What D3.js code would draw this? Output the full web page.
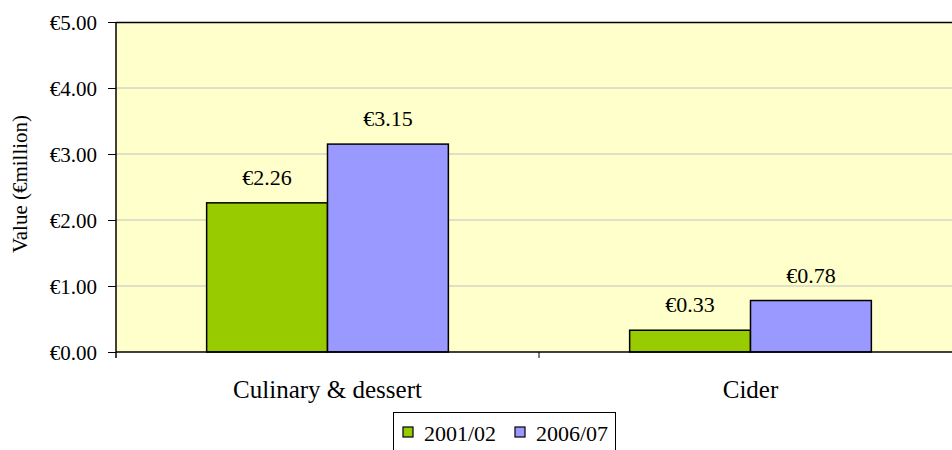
<!DOCTYPE html>
<html><head><meta charset="utf-8">
<script src="https://cdn.jsdelivr.net/npm/d3@7"></script>
<style>body{margin:0;background:#fff}svg{display:block}</style>
</head><body>
<svg id="c" width="952" height="450" font-family="Liberation Serif"></svg>
<script>
const categories = ["Culinary & dessert", "Cider"];
const seriesNames = ["2001/02", "2006/07"];
const values2001 = [2.26, 0.33];
const values2006 = [3.15, 0.78];
const yTicks = [0, 1, 2, 3, 4, 5];
const colors = ["#99CC00", "#9999FF"];

const svg = d3.select("#c");
const FF = "Liberation Serif";
const BASE = 25;
const L = 116, R = 962, T = 22, B = 352;

const x0 = d3.scaleBand().domain(categories).range([L, R]);
const bw = x0.bandwidth() / 3.5;
const x1 = d3.scaleBand().domain(seriesNames).range([bw * 0.75, x0.bandwidth() - bw * 0.75]);
const y = d3.scaleLinear().domain([0, 5]).range([B, T]);
const euro = v => "€" + v.toFixed(2);
const k = s => (s / BASE).toFixed(3);

// plot area
svg.append("rect").attr("x", L).attr("y", T).attr("width", R - L).attr("height", B - T)
  .attr("fill", "#FFFFCC");
svg.append("g").selectAll("line").data(yTicks.filter(d => d > 0 && d < 5)).join("line")
  .attr("x1", L).attr("x2", R).attr("y1", d => y(d)).attr("y2", d => y(d))
  .attr("stroke", "#C0C0C0").attr("stroke-width", 1);
svg.append("line").attr("x1", L).attr("x2", R).attr("y1", T + 0.5).attr("y2", T + 0.5)
  .attr("stroke", "#000").attr("stroke-width", 1.5);

// bars
const data = categories.map((c, i) => ({c, vals: [values2001[i], values2006[i]]}));
const g = svg.append("g");
data.forEach(d => {
  d.vals.forEach((v, j) => {
    const xx = x0(d.c) + x1(seriesNames[j]);
    g.append("rect").attr("x", xx).attr("y", y(v)).attr("width", x1.bandwidth())
      .attr("height", y(0) - y(v)).attr("fill", colors[j])
      .attr("stroke", "#000").attr("stroke-width", 1.5);
    g.append("text")
      .attr("transform", `translate(${xx + x1.bandwidth() / 2},${y(v) - 18}) scale(${k(22)})`)
      .attr("text-anchor", "middle").attr("font-family", FF).attr("font-size", BASE)
      .attr("fill", "#000").text(euro(v));
  });
});

// y axis
const yAxis = d3.axisLeft(y).tickValues(yTicks).tickSize(8).tickFormat(euro);
const ya = svg.append("g").attr("transform", `translate(${L},0)`).call(yAxis)
  .attr("font-family", FF).attr("font-size", BASE);
ya.select(".domain").remove();
ya.selectAll(".tick line").attr("stroke", "#000");
ya.selectAll(".tick text").attr("font-family", FF).attr("font-size", BASE)
  .attr("fill", "#000").attr("x", null).attr("dy", "0.35em")
  .attr("transform", `translate(-19,0) scale(${k(21)})`);
svg.append("line").attr("x1", L).attr("x2", L).attr("y1", T).attr("y2", B + 6)
  .attr("stroke", "#000").attr("stroke-width", 1.5);

// x axis
const xa = svg.append("g").attr("transform", `translate(0,${B})`)
  .call(d3.axisBottom(x0).tickSize(0).tickPadding(0))
  .attr("font-family", FF).attr("font-size", BASE);
xa.select(".domain").remove();
xa.selectAll(".tick text").attr("font-family", FF).attr("font-size", BASE)
  .attr("fill", "#000").attr("dy", null).attr("y", 46);
svg.append("line").attr("x1", L).attr("x2", R).attr("y1", B).attr("y2", B)
  .attr("stroke", "#000").attr("stroke-width", 1.5);
svg.append("g").selectAll("line").data(categories.slice(1)).join("line")
  .attr("x1", d => x0(d)).attr("x2", d => x0(d)).attr("y1", B).attr("y2", B + 6)
  .attr("stroke", "#000").attr("stroke-width", 1);

// y title
svg.append("text").attr("transform", `translate(27,184) rotate(-90) scale(${k(21)})`)
  .attr("text-anchor", "middle").attr("font-family", FF).attr("font-size", BASE)
  .attr("fill", "#000").text("Value (€million)");

// legend
const lg = svg.append("g");
lg.append("rect").attr("x", 393.5).attr("y", 412.5).attr("width", 222).attr("height", 45)
  .attr("fill", "#fff").attr("stroke", "#000").attr("stroke-width", 1);
const lx = [403, 515];
seriesNames.forEach((s, j) => {
  lg.append("rect").attr("x", lx[j]).attr("y", 427).attr("width", 10).attr("height", 10)
    .attr("fill", colors[j]).attr("stroke", "#000").attr("stroke-width", 1.2);
  lg.append("text").attr("transform", `translate(${lx[j] + 21},441) scale(${k(22)})`)
    .attr("font-family", FF).attr("font-size", BASE).attr("fill", "#000").text(s);
});
</script>
</body></html>
